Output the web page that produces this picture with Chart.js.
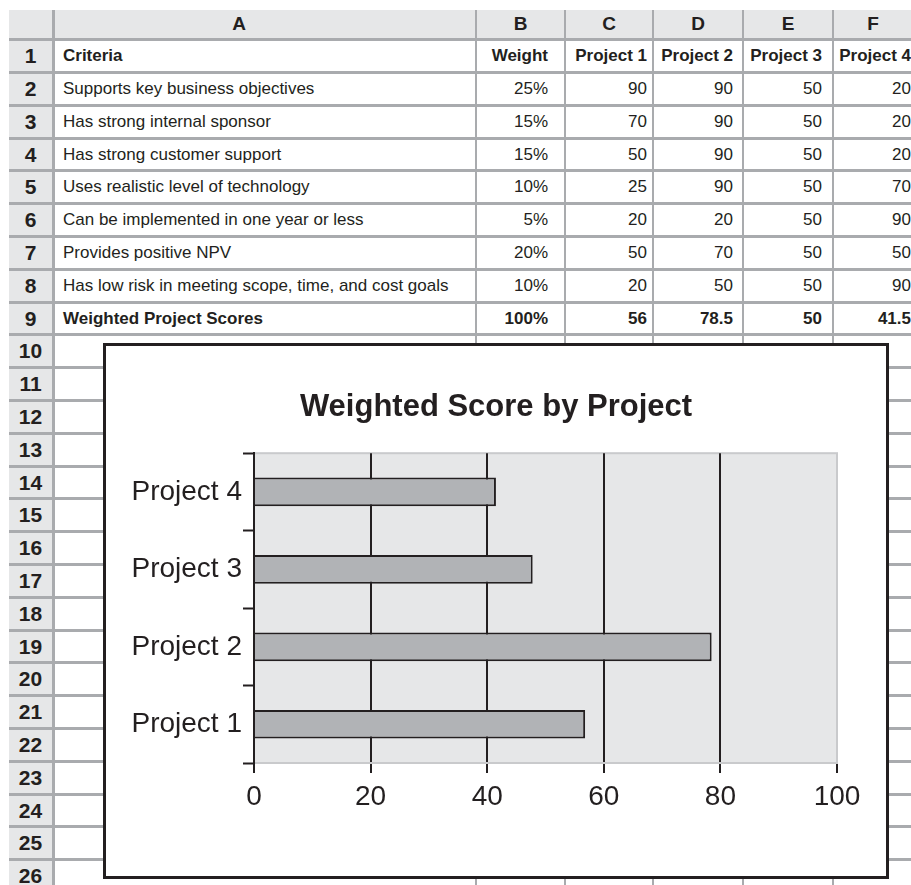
<!DOCTYPE html>
<html lang="en">
<head>
<meta charset="UTF-8">
<title>Weighted Score by Project</title>
<script src="https://cdn.jsdelivr.net/npm/chart.js"></script>
<style>
  body { margin: 0; width: 911px; height: 885px; overflow: hidden; background: #fff;
         font-family: "Liberation Sans", Arial, sans-serif; color: #231f20; position: relative; }
  #sheet { position: absolute; left: 9px; top: 10px; display: grid;
           grid-template-columns: 44px 420px 87px 86px 88px 88px 78px;
           grid-template-rows: 28.3px repeat(26, 29.8px);
           column-gap: 2px; row-gap: 3px; background: #a9abae; }
  #sheet div { display: flex; align-items: center; background: #fff; white-space: nowrap; overflow: hidden; }
  #sheet .hd { background: #e6e7e8; font-weight: bold; font-size: 19px; justify-content: center; }
  #sheet .rn { background: #e6e7e8; font-weight: bold; font-size: 21px; justify-content: center;
               box-sizing: border-box; border-right: 1px solid #a9abae; }
  #sheet .hd.first { box-sizing: border-box; border-right: 1px solid #a9abae; }
  #sheet .hd.colA { padding-right: 52px; }
  #sheet .c { font-size: 17px; justify-content: flex-end; }
  #sheet .c.colA { justify-content: flex-start; padding-left: 8px; }
  #sheet .c.colB { padding-right: 16px; }
  #sheet .c.colC { padding-right: 5px; }
  #sheet .c.colD { padding-right: 9px; }
  #sheet .c.colE { padding-right: 10px; }
  #sheet .c.colF { padding-right: 1px; overflow: visible; }
  #sheet .b { font-weight: bold; }
  #box { position: absolute; left: 103px; top: 343px; width: 786px; height: 536px;
         box-sizing: border-box; border: 3px solid #231f20; background: #fff; }
  #chart { display: block; }
</style>
</head>
<body>
<div id="sheet"></div>
<div id="box"><canvas id="chart" width="780" height="530"></canvas></div>

<script>
// spreadsheet contents
const columns = ['A', 'B', 'C', 'D', 'E', 'F'];
const criteria = [
  'Supports key business objectives',
  'Has strong internal sponsor',
  'Has strong customer support',
  'Uses realistic level of technology',
  'Can be implemented in one year or less',
  'Provides positive NPV',
  'Has low risk in meeting scope, time, and cost goals'
];
const weights = ['25%', '15%', '15%', '10%', '5%', '20%', '10%'];
const project1 = [90, 70, 50, 25, 20, 50, 20];
const project2 = [90, 90, 90, 90, 20, 70, 50];
const project3 = [50, 50, 50, 50, 50, 50, 50];
const project4 = [20, 20, 20, 70, 90, 50, 90];
const totalRow = ['Weighted Project Scores', '100%', '56', '78.5', '50', '41.5'];
const projects = ['Project 1', 'Project 2', 'Project 3', 'Project 4'];

// chart values as drawn (bar ends)
const barValues = [56.8, 78.5, 47.8, 41.5];
const rowCount = 26;

const sheet = document.getElementById('sheet');
function cell(text, cls) {
  const d = document.createElement('div');
  d.className = cls;
  d.textContent = text;
  sheet.appendChild(d);
}

cell('', 'hd first');
columns.forEach(c => cell(c, 'hd col' + c));

const rows = [['Criteria', 'Weight'].concat(projects)];
criteria.forEach((c, i) => rows.push([c, weights[i], project1[i], project2[i], project3[i], project4[i]]));
rows.push(totalRow);

for (let r = 1; r <= rowCount; r++) {
  cell(r, 'rn');
  const data = rows[r - 1];
  const bold = (r === 1 || r === rows.length);
  columns.forEach((c, i) => {
    cell(data ? data[i] : '', 'c col' + c + (bold ? ' b' : ''));
  });
}

// chart
const ink = '#231f20';
const fam = '"Liberation Sans", Arial, sans-serif';

const plotBg = {
  id: 'plotBg',
  beforeDraw(chart) {
    const { ctx, chartArea: a } = chart;
    ctx.save();
    ctx.fillStyle = '#e6e7e8';
    ctx.fillRect(a.left, a.top, a.width, a.height);
    ctx.strokeStyle = '#c9cacc';
    ctx.lineWidth = 2;
    ctx.strokeRect(a.left, a.top, a.width, a.height);
    ctx.restore();
  }
};

new Chart(document.getElementById('chart'), {
  type: 'bar',
  data: {
    labels: projects,
    datasets: [{
      data: barValues,
      backgroundColor: '#b1b3b6',
      borderColor: ink,
      borderWidth: 2,
      barPercentage: 0.37,
      categoryPercentage: 1
    }]
  },
  options: {
    indexAxis: 'y',
    responsive: false,
    animation: false,
    devicePixelRatio: 1,
    plugins: {
      legend: { display: false },
      tooltip: { enabled: false },
      title: {
        display: true,
        text: 'Weighted Score by Project',
        color: ink,
        font: { family: fam, size: 31, weight: 'bold' },
        padding: { top: 43, bottom: 27 }
      }
    },
    scales: {
      x: {
        min: 0,
        max: 100,
        ticks: { stepSize: 20, color: ink, font: { family: fam, size: 28 }, padding: 7, maxRotation: 0 },
        grid: {
          color: ctx => (ctx.tick && ctx.tick.value === 100) ? '#c9cacc' : ink,
          lineWidth: 2,
          tickLength: 10,
          tickColor: ink,
          tickWidth: 2
        },
        border: { display: true, color: '#c9cacc', width: 2 },
        // leave room on the right without moving the title off centre
        afterFit: s => { s.height = 113; s.paddingRight = 49; }
      },
      y: {
        reverse: true,
        ticks: { color: ink, font: { family: fam, size: 28 }, padding: 1 },
        grid: { drawOnChartArea: false, tickLength: 11, tickColor: ink, tickWidth: 2, offset: true },
        border: { display: true, color: ink, width: 2 },
        afterFit: s => { s.width = 148; }
      }
    }
  },
  plugins: [plotBg]
});
</script>
</body>
</html>
